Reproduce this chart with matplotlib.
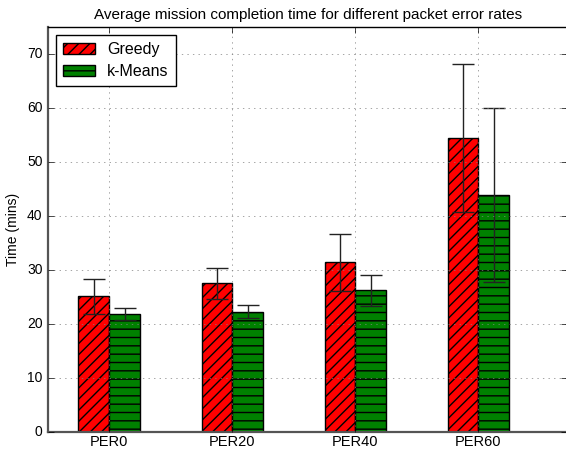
import numpy as np
import matplotlib
matplotlib.use("Agg")
import matplotlib.pyplot as plt

plt.style.use("classic")
plt.rcParams["font.family"] = ["Liberation Sans", "DejaVu Sans"]
plt.rcParams["hatch.linewidth"] = 1.0

# Mean mission completion time (mins) and std dev per packet error rate
labels = ["PER0", "PER20", "PER40", "PER60"]
greedy_mean = [25.1, 27.5, 31.4, 54.4]
greedy_std = [3.3, 2.9, 5.3, 13.7]
kmeans_mean = [21.8, 22.3, 26.2, 43.9]
kmeans_std = [1.1, 1.2, 2.9, 16.1]

x = np.arange(len(labels))
width = 0.25

fig, ax = plt.subplots(figsize=(5.66, 4.49), dpi=100)
fig.patch.set_facecolor("white")

err_kw = dict(ecolor="#222222", elinewidth=1, capsize=8, capthick=1)
ax.bar(x - width, greedy_mean, width, yerr=greedy_std, color="red",
       edgecolor="black", hatch="///", label="Greedy", align="edge",
       error_kw=err_kw)
ax.bar(x, kmeans_mean, width, yerr=kmeans_std, color="green",
       edgecolor="black", hatch="--", label="k-Means", align="edge",
       error_kw=err_kw)

ax.set_xticks(x)
ax.set_xticklabels(labels)
ax.set_xlim(-0.496, 3.72)
ax.set_ylim(0, 75)
ax.set_ylabel("Time (mins)", fontsize=10)
ax.set_title("Average mission completion time for different packet error rates",
             fontsize=11, pad=6)
ax.tick_params(axis="x", labelsize=10.5, pad=2)
ax.tick_params(axis="y", labelsize=10)
ax.grid(True, linestyle=":", color="gray")
for side in ["left", "bottom"]:
    ax.spines[side].set_color("#555555")
    ax.spines[side].set_linewidth(1.6)
ax.legend(loc="upper left", fontsize=11.5, handlelength=2.0,
          handletextpad=0.75, borderpad=0.45, labelspacing=0.45)

fig.subplots_adjust(left=0.085, right=1.002, top=0.94, bottom=0.038)
fig.savefig("out.png", dpi=100)
